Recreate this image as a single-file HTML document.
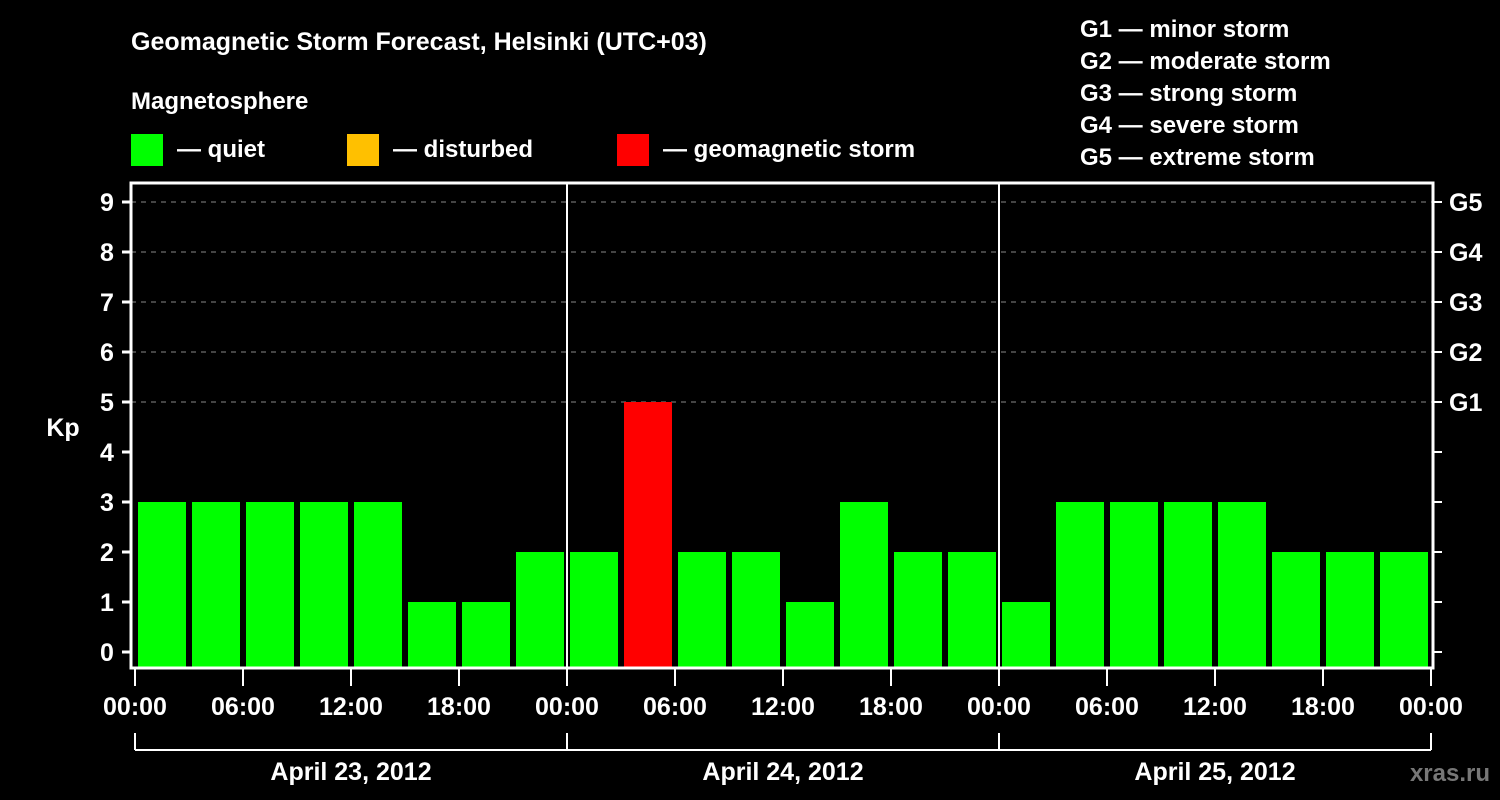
<!DOCTYPE html>
<html><head><meta charset="utf-8"><style>
html,body{margin:0;padding:0;background:#000;}
svg{display:block;font-family:"Liberation Sans",sans-serif;font-weight:bold;}
</style></head><body>
<svg width="1500" height="800" viewBox="0 0 1500 800">
<text x="131" y="50" fill="#fff" font-size="25">Geomagnetic Storm Forecast, Helsinki (UTC+03)</text>
<text x="131" y="109" fill="#fff" font-size="24">Magnetosphere</text>
<g><rect x="131" y="134" width="32" height="32" fill="#00ff00"/><text x="177" y="157" fill="#fff" font-size="24">— quiet</text></g>
<g><rect x="347" y="134" width="32" height="32" fill="#ffc000"/><text x="393" y="157" fill="#fff" font-size="24">— disturbed</text></g>
<g><rect x="617" y="134" width="32" height="32" fill="#ff0000"/><text x="663" y="157" fill="#fff" font-size="24">— geomagnetic storm</text></g>
<g fill="#fff" font-size="24">
<text x="1080" y="37">G1 — minor storm</text>
<text x="1080" y="69">G2 — moderate storm</text>
<text x="1080" y="101">G3 — strong storm</text>
<text x="1080" y="133">G4 — severe storm</text>
<text x="1080" y="165">G5 — extreme storm</text>
</g>
<text x="63" y="436" fill="#fff" font-size="25" text-anchor="middle">Kp</text>
<g id="plot"></g>
<text x="1490" y="781" fill="#777" font-size="24" text-anchor="end">xras.ru</text>
</svg>
<script>
const kpValues = [3,3,3,3,3,1,1,2, 2,5,2,2,1,3,2,2, 1,3,3,3,3,2,2,2];
const dayLabels = ["April 23, 2012","April 24, 2012","April 25, 2012"];
const hourLabels = ["00:00","06:00","12:00","18:00"];
const gLabels = ["G1","G2","G3","G4","G5"];
const NS="http://www.w3.org/2000/svg";
const g=document.getElementById('plot');
const X=h=>135+h*18;
const Y=v=>652-50*v;
function mk(t,a,p){const e=document.createElementNS(NS,t);for(const k in a)e.setAttribute(k,a[k]);(p||g).appendChild(e);return e;}
// grid
for(let v=6;v<=9;v++){const l=mk('line',{x1:131,x2:1433,y1:Y(v),y2:Y(v),stroke:'#888','stroke-width':1,'stroke-dasharray':'5,5'});

}
{const l=mk('line',{x1:131,x2:1433,y1:Y(5),y2:Y(5),stroke:'#888','stroke-width':1,'stroke-dasharray':'5,5'});

}
// bars
kpValues.forEach((v,i)=>{
 const c=v>=5?'#ff0000':(v==4?'#ffc000':'#00ff00');
 const r=mk('rect',{x:X(i*3)+3,y:Y(v),width:48,height:668-Y(v),fill:c});
 
 
});
// day separators
for(let d=1;d<3;d++){const l=mk('line',{x1:X(d*24),x2:X(d*24),y1:183,y2:668,stroke:'#fff','stroke-width':2});

}
// frame
const f=mk('rect',{x:131,y:183,width:1302,height:485,fill:'none',stroke:'#fff','stroke-width':3});


// y ticks
for(let v=0;v<=9;v++){
 mk('line',{x1:122,x2:131,y1:Y(v),y2:Y(v),stroke:'#fff','stroke-width':3});
 mk('line',{x1:1433,x2:1442,y1:Y(v),y2:Y(v),stroke:'#fff','stroke-width':2});
 const t=mk('text',{x:107,y:Y(v)+9,fill:'#fff','font-size':25,'text-anchor':'middle'});t.textContent=v;
 
 
}
gLabels.forEach((s,i)=>{const t=mk('text',{x:1449,y:Y(i+5)+9,fill:'#fff','font-size':25});t.textContent=s;
 
 });
// x ticks
for(let h=0;h<=72;h+=6){
 const x=X(h);
 mk('line',{x1:x,x2:x,y1:668,y2:686,stroke:'#fff','stroke-width':2});
 const t=mk('text',{x:x,y:715,fill:'#fff','font-size':25,'text-anchor':'middle'});t.textContent=hourLabels[(h/6)%4];
 
 
}
// day brackets
mk('line',{x1:X(0),x2:X(72),y1:750,y2:750,stroke:'#fff','stroke-width':2});
for(let d=0;d<=3;d++)mk('line',{x1:X(d*24),x2:X(d*24),y1:733,y2:750,stroke:'#fff','stroke-width':2});
dayLabels.forEach((s,d)=>{const t=mk('text',{x:X(d*24+12),y:780,fill:'#fff','font-size':25,'text-anchor':'middle'});t.textContent=s;
 
 });
</script>
</body></html>
